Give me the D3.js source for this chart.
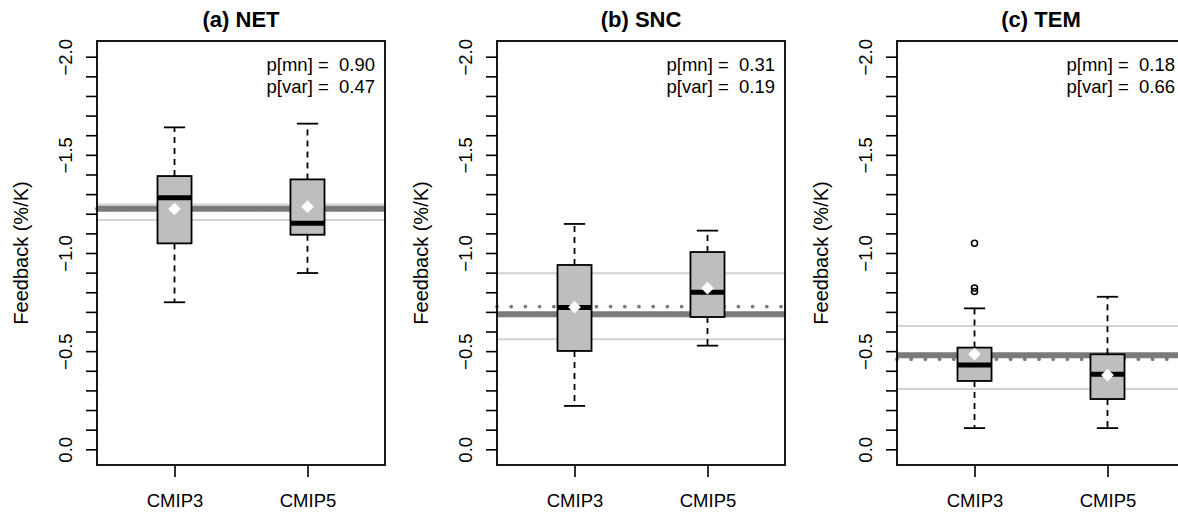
<!DOCTYPE html>
<html>
<head>
<meta charset="utf-8">
<script src="https://cdn.jsdelivr.net/npm/d3@7"></script>
<style>
html,body{margin:0;padding:0;background:#fff;}
svg{display:block;}
text{font-family:"Liberation Sans",Arial,Helvetica,sans-serif;fill:#000;}
</style>
</head>
<body>
<svg id="chart" width="1178" height="512"></svg>
<script>
// ---- data ----
const categories = ["CMIP3", "CMIP5"];
const panelTitles = ["(a) NET", "(b) SNC", "(c) TEM"];
const pMean = ["0.90", "0.31", "0.18"];
const pVar = ["0.47", "0.19", "0.66"];

// box statistics per panel, [CMIP3, CMIP5]
const whiskerLow  = [[-0.749, -0.898], [-0.221, -0.528], [-0.108, -0.108]];
const quart1      = [[-1.049, -1.093], [-0.501, -0.674], [-0.348, -0.256]];
const medians     = [[-1.282, -1.151], [-0.722, -0.800], [-0.429, -0.382]];
const quart3      = [[-1.392, -1.375], [-0.939, -1.005], [-0.518, -0.484]];
const whiskerHigh = [[-1.640, -1.659], [-1.148, -1.114], [-0.718, -0.777]];
const means       = [[-1.224, -1.236], [-0.724, -0.821], [-0.485, -0.378]];
const outliers    = [[[], []], [[], []], [[-1.050, -0.822, -0.804], []]];

// observational reference lines per panel
const obsThick  = [-1.226, -0.688, -0.479];
const obsDotted = [-1.226, -0.727, -0.459];
const obsLow    = [-1.168, -0.560, -0.307];
const obsHigh   = [-1.247, -0.897, -0.628];

const yTickValues = [-2.0, -1.9, -1.8, -1.7, -1.6, -1.5, -1.4, -1.3, -1.2, -1.1, -1.0,
                     -0.9, -0.8, -0.7, -0.6, -0.5, -0.4, -0.3, -0.2, -0.1, 0.0];
const yLabelValues = [-2.0, -1.5, -1.0, -0.5, 0.0];
const yLabels = ["\u22122.0", "\u22121.5", "\u22121.0", "\u22120.5", "0.0"];
const yTitle = "Feedback (%/K)";

// ---- layout ----
const svg = d3.select("#chart");
const panelW = 400;
const plotL = 97, plotR = 385, plotT = 41, plotB = 465;

const y = d3.scaleLinear().domain([-2.08, 0.08]).range([plotT, plotB]);
const x = d3.scalePoint().domain(categories).range([plotL, plotR]).padding(0.583);
const step = x.step();
const boxHalf = step * 0.128;
const capHalf = step * 0.08;

panelTitles.forEach((title, p) => {
  const g = svg.append("g").attr("transform", `translate(${p * panelW},0)`);

  // reference lines
  const hline = (v, stroke, width, dash) => {
    const l = g.append("line")
      .attr("x1", plotL).attr("x2", plotR)
      .attr("y1", y(v)).attr("y2", y(v))
      .attr("stroke", stroke).attr("stroke-width", width);
    if (dash) l.attr("stroke-dasharray", dash).attr("stroke-linecap", "round");
    return l;
  };
  hline(obsLow[p], "#d3d3d3", 2);
  hline(obsHigh[p], "#d3d3d3", 2);
  hline(obsThick[p], "#7a7a7a", 6);
  hline(obsDotted[p], "#7a7a7a", 3.8, "0,14.2");

  // boxes
  categories.forEach((c, i) => {
    const cx = x(c);
    // whiskers
    [[quart3[p][i], whiskerHigh[p][i]], [quart1[p][i], whiskerLow[p][i]]].forEach(([a, b]) => {
      g.append("line").attr("x1", cx).attr("x2", cx)
        .attr("y1", y(a)).attr("y2", y(b))
        .attr("stroke", "#000").attr("stroke-width", 1.8)
        .attr("stroke-dasharray", "6,5");
      g.append("line").attr("x1", cx - capHalf).attr("x2", cx + capHalf)
        .attr("y1", y(b)).attr("y2", y(b))
        .attr("stroke", "#000").attr("stroke-width", 1.8);
    });
    // box
    g.append("rect")
      .attr("x", cx - boxHalf).attr("width", boxHalf * 2)
      .attr("y", y(quart3[p][i])).attr("height", y(quart1[p][i]) - y(quart3[p][i]))
      .attr("fill", "#bebebe").attr("stroke", "#000").attr("stroke-width", 1.8);
    // median
    g.append("line").attr("x1", cx - boxHalf).attr("x2", cx + boxHalf)
      .attr("y1", y(medians[p][i])).attr("y2", y(medians[p][i]))
      .attr("stroke", "#000").attr("stroke-width", 5);
    // outliers
    outliers[p][i].forEach(v => {
      g.append("circle").attr("cx", cx).attr("cy", y(v)).attr("r", 3)
        .attr("fill", "none").attr("stroke", "#000").attr("stroke-width", 1.6);
    });
    // mean diamond
    g.append("path")
      .attr("d", d3.symbol(d3.symbolSquare, 80)())
      .attr("transform", `translate(${cx},${y(means[p][i])}) rotate(45)`)
      .attr("fill", "#fff");
  });

  // frame
  g.append("rect").attr("x", plotL).attr("y", plotT)
    .attr("width", plotR - plotL).attr("height", plotB - plotT)
    .attr("fill", "none").attr("stroke", "#000").attr("stroke-width", 1.8);

  // y axis
  const ya = g.append("g").attr("transform", `translate(${plotL},0)`)
    .call(d3.axisLeft(y).tickValues(yTickValues).tickSize(11)
      .tickFormat(v => {
        const k = yLabelValues.findIndex(t => Math.abs(t - v) < 1e-9);
        return k >= 0 ? yLabels[k] : "";
      }));
  ya.select(".domain").remove();
  ya.selectAll(".tick line").attr("stroke", "#000").attr("stroke-width", 1.6);
  ya.selectAll(".tick text")
    .attr("x", 0).attr("y", -25).attr("dy", 0)
    .attr("transform", "rotate(-90)")
    .attr("text-anchor", "middle")
    .style("font-size", "18.5px")
    .style("font-family", "'Liberation Sans', Arial, sans-serif")
    .attr("fill", "#000");

  // x axis
  const xa = g.append("g").attr("transform", `translate(0,${plotB})`)
    .call(d3.axisBottom(x).tickSize(12));
  xa.select(".domain").remove();
  xa.selectAll(".tick line").attr("stroke", "#000").attr("stroke-width", 1.6);
  xa.selectAll(".tick text")
    .attr("y", 42).attr("dy", 0)
    .style("font-size", "18.5px")
    .style("font-family", "'Liberation Sans', Arial, sans-serif")
    .attr("fill", "#000");

  // y title
  g.append("text")
    .attr("transform", `translate(28,${(plotT + plotB) / 2}) rotate(-90)`)
    .attr("text-anchor", "middle")
    .style("font-size", "20px")
    .text(yTitle);

  // panel title
  g.append("text")
    .attr("x", (plotL + plotR) / 2).attr("y", 27)
    .attr("text-anchor", "middle")
    .style("font-size", "22px").style("font-weight", "bold")
    .text(title);

  // p-values
  g.append("text").attr("x", plotR - 10).attr("y", 71)
    .attr("text-anchor", "end").style("font-size", "18.5px")
    .style("white-space", "pre")
    .text(`p[mn] =  ${pMean[p]}`);
  g.append("text").attr("x", plotR - 10).attr("y", 92.5)
    .attr("text-anchor", "end").style("font-size", "18.5px")
    .style("white-space", "pre")
    .text(`p[var] =  ${pVar[p]}`);
});
</script>
</body>
</html>
